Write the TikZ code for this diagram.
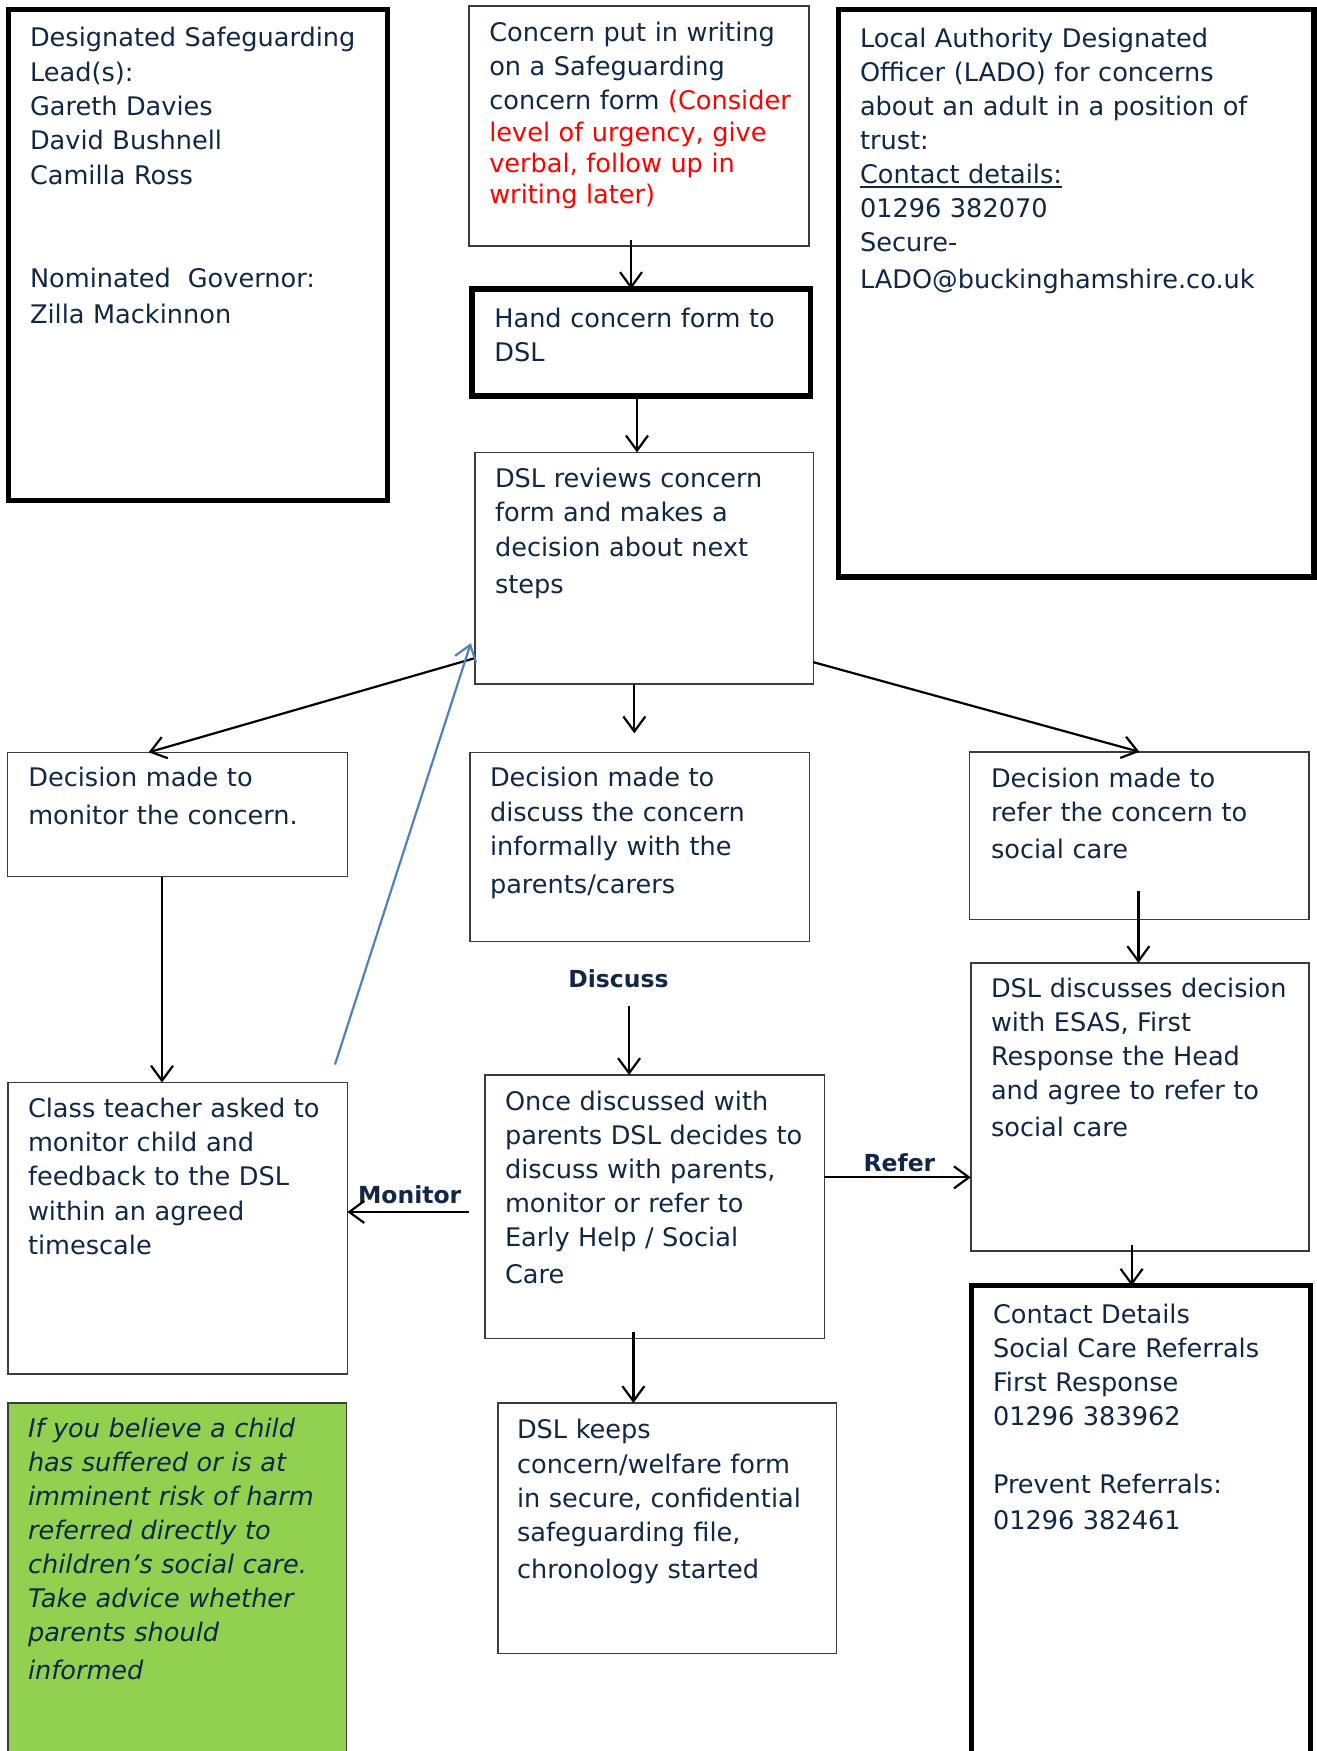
\documentclass[tikz,border=0pt]{standalone}
\usepackage{fontspec}
\setmainfont{DejaVu Sans}
\usetikzlibrary{arrows.meta}
\definecolor{navy}{RGB}{17,39,69}
\definecolor{bordergray}{RGB}{60,60,60}
\definecolor{olblue}{RGB}{79,129,189}
\definecolor{lgreen}{RGB}{146,208,80}
\definecolor{ured}{RGB}{255,0,0}
\newcommand\myul[1]{\leavevmode\setbox0\hbox{#1}\rlap{\rule[-4.5pt]{\wd0}{1.6pt}}\box0}
\begin{document}
\begin{tikzpicture}[x=1pt,y=-1pt,
  thinbox/.style={draw=bordergray, line width=1.5pt, outer sep=0pt, inner sep=0pt, anchor=north west},
  thickbox/.style={draw=black, line width=5.5pt, outer sep=0pt, inner sep=0pt, anchor=north west},
  txt/.style={anchor=base west, inner sep=0pt, outer sep=0pt, text width=#1, align=left, text=navy, font=\fontsize{25.6}{34.4}\selectfont},
  txt/.default=330pt,
  lbl/.style={anchor=base west, inner sep=0pt, outer sep=0pt, text=navy, font=\fontsize{23.5}{28}\selectfont\bfseries},
  arr/.style={draw=black, line width=2.2pt, -{Straight Barb[length=15pt,width=22pt]}},
  bluearr/.style={draw=olblue, line width=2.2pt, -{Straight Barb[length=15pt,width=22pt]}},
]
\useasboundingbox (0,0) rectangle (1317,1751);

% ---------- boxes ----------
\node[thickbox, line width=4.7pt, minimum width=379.4pt, minimum height=491.3pt] (dslb) at (8.4,9.2) {};
\node[thinbox, minimum width=340pt, minimum height=240pt] (concern) at (469,6) {};
\node[thickbox, minimum width=338.4pt, minimum height=107pt] (hand) at (472,289) {};
\node[thickbox, minimum width=475.5pt, minimum height=567.5pt] (lado) at (838.5,9.5) {};
\node[thinbox, minimum width=338.5pt, minimum height=231.5pt] (review) at (474.8,452.4) {};
\node[thinbox, minimum width=340pt, minimum height=124.4pt] (mondec) at (7.3,752.3) {};
\node[thinbox, minimum width=339.3pt, minimum height=189.4pt] (discdec) at (470,752.3) {};
\node[thinbox, minimum width=339.6pt, minimum height=167.6pt] (refdec) at (969.6,751.8) {};
\node[thinbox, minimum width=339.6pt, minimum height=291.5pt] (class) at (7.8,1082.5) {};
\node[thinbox, minimum width=339.4pt, minimum height=263.3pt] (once) at (485,1075) {};
\node[thinbox, minimum width=338.4pt, minimum height=288pt] (dsldisc) at (970.8,963) {};
\node[thickbox, minimum width=338.8pt, minimum height=490pt] (contact) at (971.7,1285.7) {};
\node[thinbox, minimum width=338.5pt, minimum height=250.3pt] (keeps) at (498.2,1403) {};
\node[thinbox, fill=lgreen, minimum width=338.5pt, minimum height=370pt] (green) at (7.8,1403) {};

% ---------- texts ----------
\node[txt=350pt] (tdsl) at (30,46.7) {Designated Safeguarding\\Lead(s):\\Gareth Davies\\David Bushnell\\Camilla Ross\\[69pt]Nominated\ \ Governor:\\[1.5pt]Zilla Mackinnon};

\node[txt=330pt, font=\fontsize{25.6}{31}\selectfont] (tconcern) at (489.3,41.7) {Concern put in writing\\[3.2pt]on a Safeguarding\\[3pt]concern form \textcolor{ured}{(Consider}\\[0.7pt]\textcolor{ured}{level of urgency, give}\\\textcolor{ured}{verbal, follow up in}\\\textcolor{ured}{writing later)}};

\node[txt] (thand) at (494.3,327.3) {Hand concern form to\\[-0.7pt]DSL};

\node[txt=440pt, font=\fontsize{25.6}{34.1}\selectfont] (tlado) at (860,47) {Local Authority Designated\\Officer (LADO) for concerns\\about an adult in a position of\\trust:\\\myul{Contact details:}\\01296 382070\\Secure-\\[3pt]LADO@buckinghamshire.co.uk};

\node[txt] (treview) at (495,487) {DSL reviews concern\\[0.3pt]form and makes a\\[0.2pt]decision about next\\[2.5pt]steps};

\node[txt] (tmondec) at (28.3,786.7) {Decision made to\\[3.2pt]monitor the concern.};

\node[txt] (tdiscdec) at (490,786.7) {Decision made to\\discuss the concern\\informally with the\\[3.4pt]parents/carers};

\node[txt] (trefdec) at (991,787) {Decision made to\\refer the concern to\\[3pt]social care};

\node[txt] (tclass) at (28,1117) {Class teacher asked to\\monitor child and\\feedback to the DSL\\within an agreed\\timescale};

\node[txt, font=\fontsize{25.6}{34.1}\selectfont] (tonce) at (505,1110.5) {Once discussed with\\parents DSL decides to\\discuss with parents,\\monitor or refer to\\Early Help / Social\\[2.8pt]Care};

\node[txt, font=\fontsize{25.6}{34.1}\selectfont] (tdsldisc) at (991,997.6) {DSL discusses decision\\with ESAS, First\\Response the Head\\and agree to refer to\\[2.5pt]social care};

\node[txt, font=\fontsize{25.6}{33.9}\selectfont] (tcontact) at (993,1323.8) {Contact Details\\Social Care Referrals\\First Response\\01296 383962\\[33.9pt]Prevent Referrals:\\[2pt]01296 382461};

\node[txt, font=\fontsize{25.6}{34.2}\selectfont] (tkeeps) at (517,1438.9) {DSL keeps\\concern/welfare form\\in secure, confidential\\safeguarding file,\\[2.6pt]chronology started};

\node[txt, font=\fontsize{25.6}{34}\selectfont\itshape] (tgreen) at (28,1437.8) {If you believe a child\\has suffered or is at\\imminent risk of harm\\referred directly to\\children’s social care.\\Take advice whether\\parents should\\[4pt]informed};

% ---------- labels ----------
\node[lbl] (dlabel) at (568.3,987.3) {Discuss};
\node[lbl] (mlabel) at (358,1203) {Monitor};
\node[lbl] (rlabel) at (863.5,1171) {Refer};

% ---------- connector start points ----------
\coordinate (s1) at ([xshift=-8pt,yshift=6pt]concern.south);
\coordinate (s2) at ([xshift=-4.2pt]hand.south);
\coordinate (s4) at ([xshift=-9.7pt]review.south);
\coordinate (e4) at ([xshift=-9.7pt,yshift=19pt]discdec.north);
\coordinate (s6) at ([xshift=-15.3pt]mondec.south);
\coordinate (s7) at ([xshift=10.7pt,yshift=-18.7pt]dlabel.south);
\coordinate (s8) at ([xshift=-16pt,yshift=-5.3pt]once.west);
\coordinate (s9) at ([yshift=29.3pt]once.east);
\coordinate (s10) at ([xshift=-1pt,yshift=28.4pt]refdec.south);
\coordinate (s11) at ([xshift=-8.4pt,yshift=6.5pt]dsldisc.south);
\coordinate (s12) at ([xshift=-21.3pt,yshift=6.7pt]once.south);

% ---------- connectors ----------
\draw[arr] (s1) -- (s1 |- hand.north);
\draw[arr] (s2) -- (s2 |- review.north);
\draw[arr] ([yshift=-90pt]review.west) -- ([xshift=-28.7pt]mondec.north);
\draw[bluearr] ([xshift=157.4pt,yshift=18pt]class.north) -- ([xshift=-4pt,yshift=-75pt]review.west);
\draw[arr] (s4) -- (s4 |- e4);
\draw[arr] ([yshift=-94pt]review.east) -- (refdec.north);
\draw[arr] (s6) -- (s6 |- class.north);
\draw[arr] (s7) -- (s7 |- once.north);
\draw[arr] (s8) -- (s8 -| class.east);
\draw[arr] (s9) -- (s9 -| dsldisc.west);
\draw[arr] (s10) -- (s10 |- dsldisc.north);
\draw[arr] (s11) -- (s11 |- contact.north);
\draw[arr] (s12) -- (s12 |- keeps.north);
\end{tikzpicture}
\end{document}
